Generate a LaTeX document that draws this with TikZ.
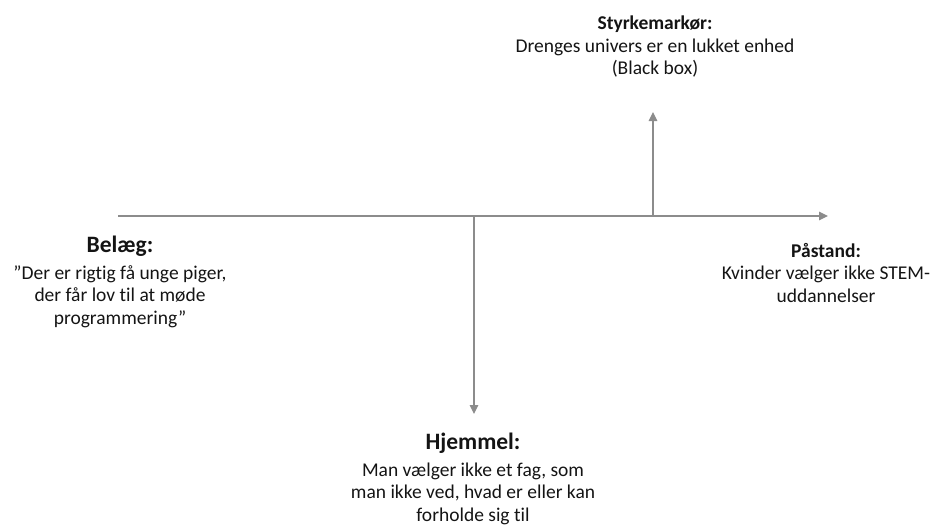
\documentclass[tikz,border=0pt]{standalone}
\usepackage{fontspec}
\setmainfont{Carlito}[Ligatures=NoCommon]
\usetikzlibrary{arrows.meta}
\definecolor{linegray}{HTML}{8C8C8C}
\definecolor{textdark}{HTML}{141414}
\begin{document}
\begin{tikzpicture}[x=1pt,y=-1pt,
  conn/.style={draw=linegray, line width=1.1pt, -{Triangle[length=9pt,width=8.5pt]}},
  lbl/.style={align=center, text=textdark, inner sep=0pt, anchor=north,
    font=\fontsize{19.5}{22.5}\selectfont},
  bighead/.style={font=\fontsize{23.5}{26}\selectfont\bfseries}]
\useasboundingbox (0,0) rectangle (936,525);
\coordinate (L) at (118,216);
\coordinate (R) at (828,216);
\coordinate (U0) at (653,216);
\coordinate (U1) at (653,112);
\coordinate (D0) at (474,216);
\coordinate (D1) at (474,414);
\draw[conn] (L) -- (R);
\draw[conn] (U0) -- (U1);
\draw[conn] (D0) -- (D1);
\node[lbl] (styrke) at (655,16) {\textbf{Styrkemarkør:}\\Drenges univers er en lukket enhed\\(Black box)};
\node[lbl] (belaeg) at (120,236) {{\fontsize{23.5}{26}\selectfont\bfseries Belæg:}\\[4pt]”Der er rigtig få unge piger,\\der får lov til at møde\\programmering”};
\node[lbl] (paastand) at (826,243) {\textbf{Påstand:}\\Kvinder vælger ikke STEM-\\uddannelser};
\node[lbl] (hjemmel) at (473,433) {{\fontsize{23.5}{26}\selectfont\bfseries Hjemmel:}\\[4pt]Man vælger ikke et fag, som\\man ikke ved, hvad er eller kan\\forholde sig til};
\end{tikzpicture}
\end{document}
